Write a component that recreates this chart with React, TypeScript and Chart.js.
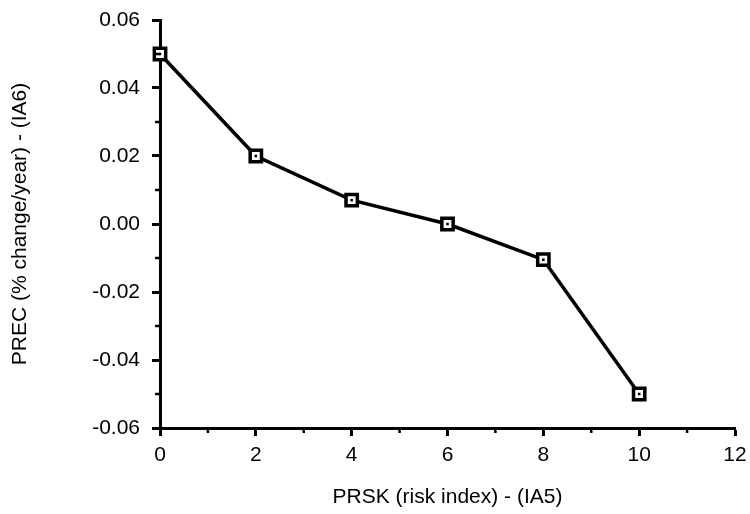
import React, { useEffect, useRef } from "react";
import { Chart, registerables } from "chart.js";

Chart.register(...registerables);

const xValues = [0, 2, 4, 6, 8, 10];
const precValues = [0.05, 0.02, 0.007, 0.0, -0.0105, -0.05];
const xMinorTicks = [1, 3, 5, 7, 9, 11];
const yMinorTicks = [-0.05, -0.03, -0.01, 0.01, 0.03, 0.05];
const xTitle = "PRSK (risk index) - (IA5)";
const yTitle = "PREC (% change/year) - (IA6)";

const FONT = "'Liberation Sans', Arial, Helvetica, sans-serif";

const minorTickPlugin = {
  id: "minorTicks",
  afterDraw(chart: any) {
    const { ctx, scales } = chart;
    const xs = scales.x;
    const ys = scales.y;
    ctx.save();
    ctx.strokeStyle = "#000";
    ctx.lineWidth = 2.5;
    ctx.beginPath();
    xMinorTicks.forEach((v) => {
      const px = xs.getPixelForValue(v);
      ctx.moveTo(px, xs.top);
      ctx.lineTo(px, xs.top + 5);
    });
    yMinorTicks.forEach((v) => {
      const py = ys.getPixelForValue(v);
      ctx.moveTo(ys.right, py);
      ctx.lineTo(ys.right - 5, py);
    });
    ctx.stroke();
    ctx.restore();
  },
};

export default function App() {
  const ref = useRef<HTMLCanvasElement>(null);
  useEffect(() => {
    if (!ref.current) return;
    const points = xValues.map((x, i) => ({ x, y: precValues[i] }));
    const chart = new Chart(ref.current, {
      type: "scatter",
      data: {
        datasets: [
          {
            data: points,
            order: 1,
            clip: false,
            showLine: true,
            borderColor: "#000",
            borderWidth: 3.5,
            backgroundColor: "#fff",
            pointStyle: "rect",
            pointRadius: 8,
            pointBorderWidth: 3.5,
            pointBorderColor: "#000",
            pointBackgroundColor: "#fff",
            tension: 0,
          },
          {
            data: points,
            order: 0,
            clip: false,
            showLine: false,
            pointStyle: "rect",
            pointRadius: 1.8,
            pointBorderWidth: 0,
            pointBackgroundColor: "#000",
            backgroundColor: "#000",
          },
        ],
      },
      options: {
        animation: false,
        responsive: false,
        maintainAspectRatio: false,
        layout: { padding: { left: 8, right: 15, top: 20, bottom: 4 } },
        plugins: {
          legend: { display: false },
          tooltip: { enabled: false },
        },
        scales: {
          x: {
            type: "linear",
            min: 0,
            max: 12,
            ticks: {
              stepSize: 2,
              color: "#000",
              font: { family: FONT, size: 21 },
              padding: 7,
              maxRotation: 0,
              callback: (v: any) => String(v),
            },
            grid: {
              drawOnChartArea: false,
              drawTicks: true,
              tickLength: 8,
              tickWidth: 3,
              tickColor: "#000",
            },
            border: { display: true, color: "#000", width: 3 },
            title: {
              display: true,
              text: xTitle,
              color: "#000",
              font: { family: FONT, size: 21 },
              padding: { top: 0, bottom: 0 },
            },
            afterFit: (scale: any) => {
              scale.height = 514 - 428 - 4;
              scale.paddingLeft = 0;
              scale.paddingRight = 0;
            },
          },
          y: {
            type: "linear",
            min: -0.06,
            max: 0.06,
            ticks: {
              stepSize: 0.02,
              color: "#000",
              font: { family: FONT, size: 21 },
              padding: 12,
              callback: (v: any) => Number(v).toFixed(2),
            },
            grid: {
              drawOnChartArea: false,
              drawTicks: true,
              tickLength: 8,
              tickWidth: 3,
              tickColor: "#000",
            },
            border: { display: true, color: "#000", width: 3 },
            title: {
              display: true,
              text: yTitle,
              color: "#000",
              font: { family: FONT, size: 21 },
              padding: { top: 0, bottom: 0 },
            },
            afterFit: (scale: any) => {
              scale.width = 160 - 8;
              scale.paddingTop = 0;
              scale.paddingBottom = 0;
            },
          },
        },
      },
      plugins: [minorTickPlugin],
    });
    return () => chart.destroy();
  }, []);
  return (
    <div style={{ position: "fixed", left: 0, top: 0, width: 750, height: 514, background: "#fff" }}>
      <canvas ref={ref} width={750} height={514} style={{ display: "block" }} />
    </div>
  );
}
